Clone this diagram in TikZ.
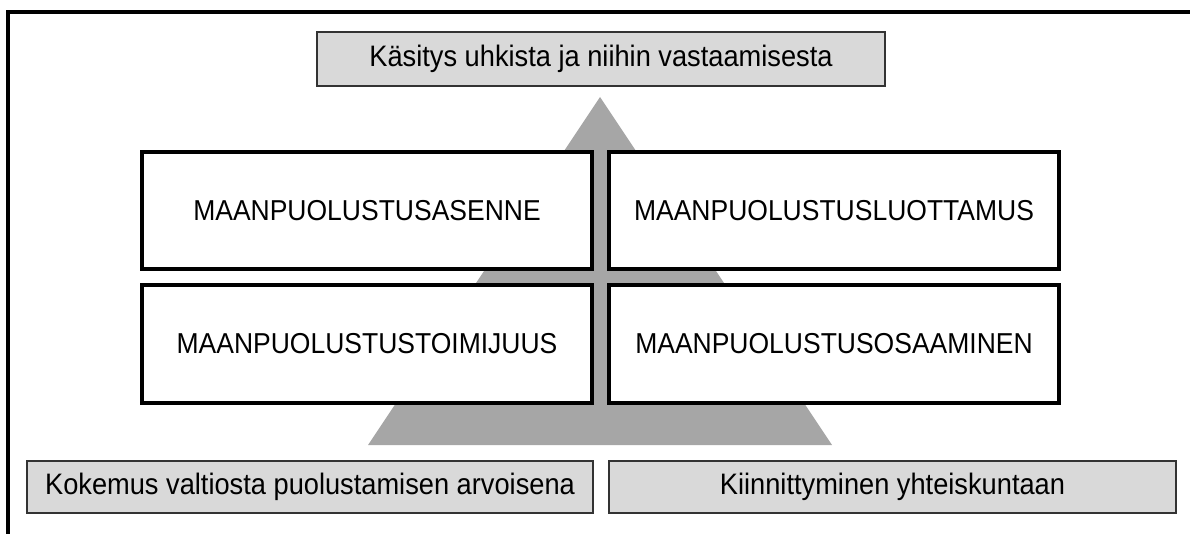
\documentclass[tikz,border=0pt]{standalone}
\usepackage{fontspec}
\usepackage{graphicx}
\setmainfont{Liberation Sans}
\newcommand{\condtxt}[1]{\scalebox{0.92}[1]{#1}}
\begin{document}
\begin{tikzpicture}[x=1pt,y=-1pt,
  bigbox/.style={draw=black,line width=4pt,fill=white,minimum width=450pt,minimum height=117pt,inner sep=0pt,
    font=\fontsize{28.8}{32}\selectfont},
  graybox/.style={draw=black!80,line width=1.6pt,fill=black!15,inner sep=0pt,
    font=\fontsize{29.6}{32}\selectfont},
  tri/.style={fill=black!35,draw=none}]
\useasboundingbox (0,0) rectangle (1190,534);
% frame
\draw[line width=4pt] (8,534) -- (8,12) -- (1190,12);
% triangle
\coordinate (apex) at (600,97);
\coordinate (bl) at (368,445);
\coordinate (br) at (832,445);
\fill[tri] (apex) -- (bl) -- (br) -- cycle;
% top box
\node[graybox,minimum width=568pt,minimum height=54pt] (top) at (601,59) {\condtxt{Käsitys uhkista ja niihin vastaamisesta}};
% four boxes
\node[bigbox] (ul) at (367,211) {\condtxt{MAANPUOLUSTUSASENNE}};
\node[bigbox] (ur) at (834,211) {\condtxt{MAANPUOLUSTUSLUOTTAMUS}};
\node[bigbox] (ll) at (367,344) {\condtxt{MAANPUOLUSTUSTOIMIJUUS}};
\node[bigbox] (lr) at (834,344) {\condtxt{MAANPUOLUSTUSOSAAMINEN}};
% bottom boxes
\node[graybox,minimum width=566pt,minimum height=52pt] (bl1) at (310,487) {\condtxt{Kokemus valtiosta puolustamisen arvoisena}};
\node[graybox,minimum width=567pt,minimum height=52pt] (br1) at (892.5,487) {\condtxt{Kiinnittyminen yhteiskuntaan}};
\end{tikzpicture}
\end{document}
